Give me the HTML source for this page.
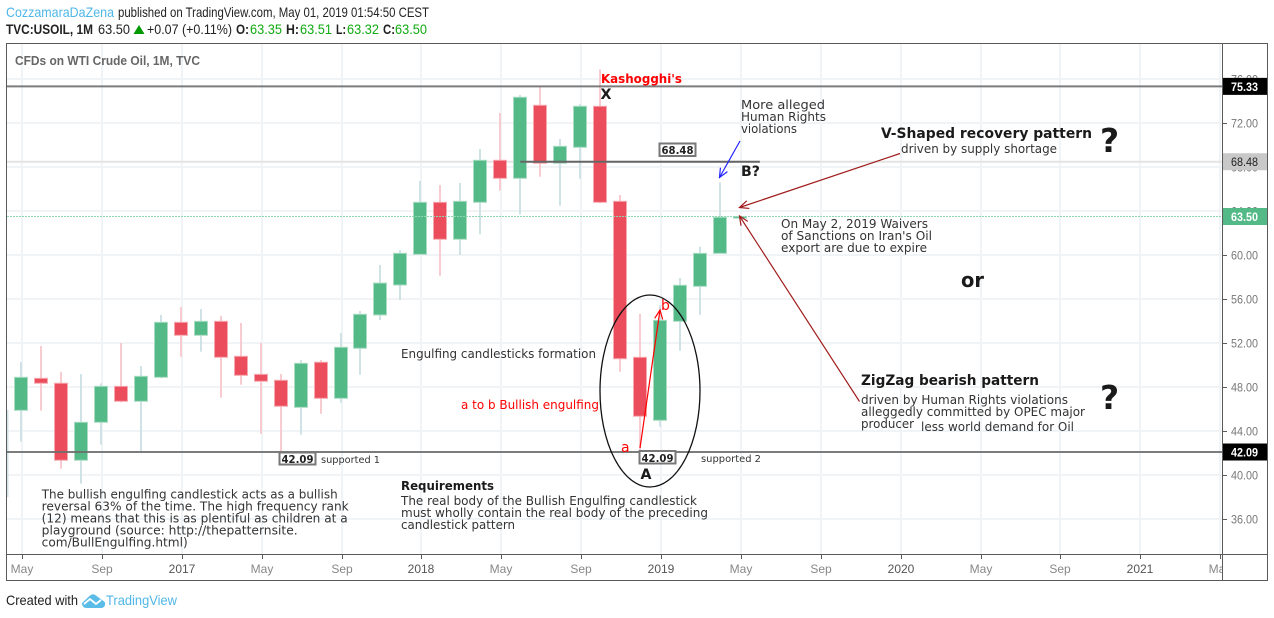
<!DOCTYPE html>
<html lang="en">
<head>
<meta charset="utf-8">
<title>CFDs on WTI Crude Oil, 1M, TVC</title>
<style>
html,body{margin:0;padding:0;background:#fff;width:1274px;height:618px;overflow:hidden}
svg{display:block}
.hd{font-family:"Liberation Sans",sans-serif;font-size:14px;fill:#222}
.note{font-family:"DejaVu Sans",sans-serif;font-size:12px;fill:#333}
.strong{font-family:"DejaVu Sans",sans-serif;font-weight:bold;fill:#1a1a1a}
.tag{font-family:"DejaVu Sans",sans-serif;font-weight:bold;font-size:11px;fill:#222}
.small{font-family:"DejaVu Sans",sans-serif;font-size:10px;fill:#333}
.axis{font-family:"Liberation Sans",sans-serif;font-size:12px;fill:#777}
</style>
</head>
<body>
<svg id="chart" xmlns="http://www.w3.org/2000/svg" width="1274" height="618" viewBox="0 0 1274 618">
<defs>
<clipPath id="plot-clip"><rect x="7" y="44" width="1215" height="510"/></clipPath>
<clipPath id="time-clip"><rect x="7" y="555" width="1215" height="26"/></clipPath>
<marker id="head-dark" markerWidth="12" markerHeight="10" refX="10" refY="5" orient="auto" markerUnits="userSpaceOnUse" overflow="visible"><path d="M1 1L10 5L1 9" fill="none" stroke="#a01c1c" stroke-width="1.200"/></marker>
<marker id="head-blue" markerWidth="12" markerHeight="10" refX="10" refY="5" orient="auto" markerUnits="userSpaceOnUse" overflow="visible"><path d="M1 1L10 5L1 9" fill="none" stroke="#2222ff" stroke-width="1.200"/></marker>
<marker id="head-red" markerWidth="12" markerHeight="10" refX="10" refY="5" orient="auto" markerUnits="userSpaceOnUse" overflow="visible"><path d="M1 1L10 5L1 9" fill="none" stroke="#ff0000" stroke-width="1.200"/></marker>
</defs>

<g>
<text class="hd" x="6" y="17" style="fill:#4fb7e8" textLength="108" lengthAdjust="spacingAndGlyphs">CozzamaraDaZena</text>
<text class="hd" x="118" y="17" textLength="311" lengthAdjust="spacingAndGlyphs">published on TradingView.com, May 01, 2019 01:54:50 CEST</text>
<text class="hd" x="6" y="34" font-weight="bold" textLength="87" lengthAdjust="spacingAndGlyphs">TVC:USOIL, 1M</text>
<text class="hd" x="98" y="34" textLength="32" lengthAdjust="spacingAndGlyphs">63.50</text>
<path d="M133.500 34L139 25L144.500 34Z" fill="#009900"/>
<text class="hd" x="147" y="34" textLength="85" lengthAdjust="spacingAndGlyphs">+0.07 (+0.11%)</text>
<text class="hd" x="236" y="34" font-weight="bold" textLength="13" lengthAdjust="spacingAndGlyphs">O:</text>
<text class="hd" x="250" y="34" style="fill:#11aa11" textLength="32" lengthAdjust="spacingAndGlyphs">63.35</text>
<text class="hd" x="286" y="34" font-weight="bold" textLength="13" lengthAdjust="spacingAndGlyphs">H:</text>
<text class="hd" x="300" y="34" style="fill:#11aa11" textLength="32" lengthAdjust="spacingAndGlyphs">63.51</text>
<text class="hd" x="336" y="34" font-weight="bold" textLength="10" lengthAdjust="spacingAndGlyphs">L:</text>
<text class="hd" x="347" y="34" style="fill:#11aa11" textLength="32" lengthAdjust="spacingAndGlyphs">63.32</text>
<text class="hd" x="383" y="34" font-weight="bold" textLength="12" lengthAdjust="spacingAndGlyphs">C:</text>
<text class="hd" x="395" y="34" style="fill:#11aa11" textLength="32" lengthAdjust="spacingAndGlyphs">63.50</text>
</g>

<g id="grid" clip-path="url(#plot-clip)"></g>
<g id="under-levels" clip-path="url(#plot-clip)"></g>
<g id="candles" clip-path="url(#plot-clip)"></g>
<g id="levels" clip-path="url(#plot-clip)"></g>

<rect x="6.500" y="43.500" width="1261" height="537" fill="none" stroke="#5a5a5a"/>
<line x1="1222.500" y1="44" x2="1222.500" y2="581" stroke="#5a5a5a"/>
<line x1="7" y1="554.500" x2="1267" y2="554.500" stroke="#5a5a5a"/>
<g id="price-axis"></g>
<g id="time-axis"></g>
<g id="price-tags"></g>

<text x="15" y="65" font-family="'Liberation Sans',sans-serif" font-size="13" font-weight="bold" fill="#666" textLength="185" lengthAdjust="spacingAndGlyphs">CFDs on WTI Crude Oil, 1M, TVC</text>

<g>
<ellipse cx="650" cy="391" rx="50" ry="96" fill="none" stroke="#111" stroke-width="1.300"/>
<line x1="640" y1="448" x2="660" y2="310" stroke="#ff0000" stroke-width="1.200" marker-end="url(#head-red)"/>
<line x1="740" y1="141" x2="719.500" y2="177.500" stroke="#2222ff" stroke-width="1.200" marker-end="url(#head-blue)"/>
<line x1="900" y1="153.500" x2="739.500" y2="207.500" stroke="#a01c1c" stroke-width="1.200" marker-end="url(#head-dark)"/>
<line x1="859.500" y1="401.500" x2="739.500" y2="216" stroke="#a01c1c" stroke-width="1.200" marker-end="url(#head-dark)"/>

<text class="strong" x="601" y="83" font-size="12.500" style="fill:#ff0000" textLength="81" lengthAdjust="spacingAndGlyphs">Kashogghi's</text>
<text class="strong" x="600.500" y="99" font-size="14" textLength="11" lengthAdjust="spacingAndGlyphs">X</text>
<text class="strong" x="741" y="176" font-size="14" textLength="19" lengthAdjust="spacingAndGlyphs">B?</text>
<text class="strong" x="640.500" y="479" font-size="14" textLength="11" lengthAdjust="spacingAndGlyphs">A</text>

<g>
<text class="note" x="741" y="109" textLength="84" lengthAdjust="spacingAndGlyphs">More alleged</text>
<text class="note" x="741" y="121" textLength="85" lengthAdjust="spacingAndGlyphs">Human Rights</text>
<text class="note" x="741" y="133" textLength="56" lengthAdjust="spacingAndGlyphs">violations</text>
</g>
<text class="strong" x="881" y="138" font-size="14" textLength="211" lengthAdjust="spacingAndGlyphs">V-Shaped recovery pattern</text>
<text class="note" x="901" y="153" textLength="156" lengthAdjust="spacingAndGlyphs">driven by supply shortage</text>
<text class="strong" x="1100" y="152" font-size="33">?</text>

<g>
<text class="note" x="781" y="228" textLength="147" lengthAdjust="spacingAndGlyphs">On May 2, 2019 Waivers</text>
<text class="note" x="781" y="240" textLength="151" lengthAdjust="spacingAndGlyphs">of Sanctions on Iran's Oil</text>
<text class="note" x="781" y="252" textLength="146" lengthAdjust="spacingAndGlyphs">export are due to expire</text>
</g>
<text class="strong" x="961" y="287" font-size="20" textLength="23" lengthAdjust="spacingAndGlyphs">or</text>

<text class="strong" x="861" y="385" font-size="14" textLength="178" lengthAdjust="spacingAndGlyphs">ZigZag bearish pattern</text>
<g>
<text class="note" x="861" y="404" textLength="207" lengthAdjust="spacingAndGlyphs">driven by Human Rights violations</text>
<text class="note" x="861" y="416" textLength="224" lengthAdjust="spacingAndGlyphs">alleggedly committed by OPEC major</text>
<text class="note" x="861" y="428" textLength="53" lengthAdjust="spacingAndGlyphs">producer</text>
<text class="note" x="921" y="431" textLength="153" lengthAdjust="spacingAndGlyphs">less world demand for Oil</text>
</g>
<text class="strong" x="1100" y="409" font-size="33">?</text>

<text class="note" x="401" y="358" textLength="195" lengthAdjust="spacingAndGlyphs">Engulfing candlesticks formation</text>
<text class="note" x="461" y="409" style="fill:#ff0000" textLength="138" lengthAdjust="spacingAndGlyphs">a to b Bullish engulfing</text>
<text class="note" x="621" y="452" style="fill:#ff0000;font-size:14px">a</text>
<text class="note" x="661" y="310" style="fill:#ff0000;font-size:14px">b</text>

<g>
<rect x="659.500" y="143.500" width="36" height="12.500" fill="#fff" stroke="#777" stroke-width="2"/>
<text class="tag" x="661.500" y="154" textLength="32" lengthAdjust="spacingAndGlyphs">68.48</text>
</g>
<g>
<rect x="279.500" y="452.500" width="36" height="12" fill="#fff" stroke="#777" stroke-width="2"/>
<text class="tag" x="281.500" y="463" textLength="32" lengthAdjust="spacingAndGlyphs">42.09</text>
</g>
<text class="small" x="321" y="463" textLength="59" lengthAdjust="spacingAndGlyphs">supported 1</text>
<g>
<rect x="639.500" y="451" width="36" height="12.500" fill="#fff" stroke="#777" stroke-width="2"/>
<text class="tag" x="641.500" y="462" textLength="32" lengthAdjust="spacingAndGlyphs">42.09</text>
</g>
<text class="small" x="701" y="462" textLength="60" lengthAdjust="spacingAndGlyphs">supported 2</text>

<g>
<text class="note" x="41.700" y="498.500" textLength="296" lengthAdjust="spacingAndGlyphs">The bullish engulfing candlestick acts as a bullish</text>
<text class="note" x="41.700" y="510.500" textLength="307" lengthAdjust="spacingAndGlyphs">reversal 63% of the time. The high frequency rank</text>
<text class="note" x="41.700" y="522.500" textLength="306" lengthAdjust="spacingAndGlyphs">(12) means that this is as plentiful as children at a</text>
<text class="note" x="41.700" y="534.500" textLength="256" lengthAdjust="spacingAndGlyphs">playground (source: http://thepatternsite.</text>
<text class="note" x="41.700" y="546.500" textLength="146" lengthAdjust="spacingAndGlyphs">com/BullEngulfing.html)</text>
</g>
<g>
<text class="strong" x="401" y="490" font-size="12.500" textLength="93" lengthAdjust="spacingAndGlyphs">Requirements</text>
<text class="note" x="401" y="505" textLength="296" lengthAdjust="spacingAndGlyphs">The real body of the Bullish Engulfing candlestick</text>
<text class="note" x="401" y="517" textLength="307" lengthAdjust="spacingAndGlyphs">must wholly contain the real body of the preceding</text>
<text class="note" x="401" y="529" textLength="114" lengthAdjust="spacingAndGlyphs">candlestick pattern</text>
</g>
</g>

<g>
<text class="hd" x="6" y="605" textLength="72" lengthAdjust="spacingAndGlyphs">Created with</text>
<path d="M82 603L90 595.500Q93 593 96 595.500L102 600Q106 602 105 605Q104 608 101 608L87 608Q82 608 82 603Z" fill="#5bbce8"/>
<path d="M84 604L90 599L96 604L101 600" fill="none" stroke="#fff" stroke-width="1.800"/>
<text class="hd" x="106" y="605" style="fill:#4fb7e8" textLength="71" lengthAdjust="spacingAndGlyphs">TradingView</text>
</g>

<script>
// May 2016 .. May 2019 monthly candles
const opens  = [45.88,48.79,48.34,41.34,44.79,48.06,46.70,48.88,53.88,52.70,53.97,50.79,49.15,48.61,46.15,50.25,46.97,51.52,54.55,57.27,60.06,64.79,61.43,64.79,68.61,66.97,73.61,68.34,69.79,73.52,64.88,50.70,44.97,53.97,57.15,60.15,63.35];
const highs  = [50.27,51.73,49.36,49.18,48.34,52.00,49.91,54.55,55.27,55.09,54.45,53.82,52.00,49.18,50.45,50.45,52.91,54.91,59.09,60.45,66.73,66.36,66.55,69.64,72.91,74.55,75.25,70.55,73.73,76.88,65.45,54.64,55.45,57.91,60.75,66.61,63.51];
const lows   = [43.03,45.85,40.57,39.21,42.75,46.60,42.18,48.80,50.75,51.21,47.03,48.21,43.75,42.18,43.66,45.57,46.57,49.12,54.09,55.91,60.00,58.12,60.00,61.88,65.85,63.70,67.12,64.48,66.94,64.70,49.39,42.27,44.39,51.30,54.57,60.18,63.32];
const closes = [48.88,48.34,41.34,44.79,48.06,46.70,48.97,53.88,52.70,53.97,50.70,49.06,48.52,46.25,50.15,46.97,51.61,54.61,57.45,60.15,64.79,61.43,64.88,68.61,66.97,74.34,68.34,69.88,73.52,64.79,50.57,45.34,54.06,57.25,60.15,63.43,63.50];
const priceTicks = [76,72,68,64,60,56,52,48,44,40,36];
const timeIndexes = [0,4,8,12,16,20,24,28,32,36,40,44,48,52,56,60];
const timeLabels = ["May","Sep","2017","May","Sep","2018","May","Sep","2019","May","Sep","2020","May","Sep","2021","May"];
const levelPrices = [75.33,42.09];
const lightLevelPrice = 68.48;
const lastPrice = 63.50;
const segmentPrice = 68.48;
const segmentStartIndex = 25;
const segmentEndIndex = 37;
const clippedWick = [45.9,38.0];

const NS = "http://www.w3.org/2000/svg";
function yScale(p){ return 123 + (72 - p) * 11; }
function xScale(i){ return 21 + 19.97 * i; }
function make(parent, tag, attrs){
  const el = document.createElementNS(NS, tag);
  for (const k in attrs) el.setAttribute(k, attrs[k]);
  parent.appendChild(el);
  return el;
}

const gridG = document.getElementById("grid");
const priceG = document.getElementById("price-axis");
const timeG = document.getElementById("time-axis");
const candleG = document.getElementById("candles");
const levelG = document.getElementById("levels");
const underG = document.getElementById("under-levels");
const tagG = document.getElementById("price-tags");

priceTicks.forEach(function(p){
  const y = Math.round(yScale(p));
  const g = make(gridG, "line", {x1:7, x2:1222, y1:y, y2:y, stroke:"#f0f4f7", "stroke-width":2});
  
  
  const t = make(priceG, "line", {x1:1223, x2:1227, y1:y+0.5, y2:y+0.5, stroke:"#5a5a5a"});
  
  
  const l = make(priceG, "text", {x:1231, y:y+4.5, "class":"axis", textLength:27, lengthAdjust:"spacingAndGlyphs"});
  l.textContent = p.toFixed(2);
  
  
});

const timeClip = make(timeG, "g", {"clip-path":"url(#time-clip)"});


timeIndexes.forEach(function(idx, n){
  const x = Math.round(xScale(idx) + 1);
  const g = make(gridG, "line", {x1:x, x2:x, y1:44, y2:554, stroke:"#f0f4f7", "stroke-width":2});
  
  
  const t = make(timeG, "line", {x1:x+0.5, x2:x+0.5, y1:555, y2:559, stroke:"#5a5a5a"});
  
  
  const isYear = /^\d/.test(timeLabels[n]);
  const l = make(timeClip, "text", {x:x, y:573, "class":"axis", "text-anchor":"middle", style:isYear ? "fill:#555;font-size:12px" : "fill:#888"});
  l.textContent = timeLabels[n];
  
  
});

const lightLine = make(underG, "line", {x1:7, x2:1222, y1:yScale(lightLevelPrice), y2:yScale(lightLevelPrice), stroke:"#e4e4e4", "stroke-width":2});



const stray = make(candleG, "line", {x1:7.5, x2:7.5, y1:yScale(clippedWick[0]), y2:yScale(clippedWick[1]), stroke:"#cfe3e7", "stroke-width":2});



opens.forEach(function(o, i){
  const c = closes[i];
  const up = c >= o;
  const cx = Math.round(xScale(i));
  const wick = make(candleG, "line", {x1:cx, x2:cx, y1:yScale(highs[i]), y2:yScale(lows[i]), stroke:up ? "#cfe3e7" : "#f8cbd0", "stroke-width":2});
  
  
  const top = yScale(Math.max(o, c));
  const bot = yScale(Math.min(o, c));
  const body = make(candleG, "rect", {x:cx-6.5, y:top, width:13, height:Math.max(bot-top, 1), fill:up ? "#53b987" : "#eb4d5c", stroke:up ? "#a9dcc3" : "#f7a9b0", "stroke-width":1});
  
  
});

levelPrices.forEach(function(p){
  const y = yScale(p);
  const ln = make(levelG, "line", {x1:7, x2:1222, y1:y, y2:y, stroke:"#6e6e6e", "stroke-width":2, "stroke-opacity":0.9});
  
  
});
const seg = make(levelG, "line", {x1:xScale(segmentStartIndex), x2:xScale(segmentEndIndex), y1:yScale(segmentPrice), y2:yScale(segmentPrice), stroke:"#666", "stroke-width":2});


const lastLine = make(levelG, "line", {x1:7, x2:1222, y1:Math.floor(yScale(lastPrice))+0.5, y2:Math.floor(yScale(lastPrice))+0.5, stroke:"#8fd6b2", "stroke-width":1, "stroke-dasharray":"2 1"});



function priceTag(p, bg, fg, bold){
  const y = yScale(p);
  const r = make(tagG, "rect", {x:1223, y:y-8.5, width:44, height:17, fill:bg});
  
  
  const t = make(tagG, "text", {x:1231, y:y+4.5, "class":"axis", style:"fill:"+fg+(bold?";font-weight:bold":""), textLength:27, lengthAdjust:"spacingAndGlyphs"});
  t.textContent = p.toFixed(2);
  
  
}
priceTag(levelPrices[0], "#000000", "#ffffff", true);
priceTag(lightLevelPrice, "#c8c8c8", "#222222", false);
priceTag(lastPrice, "#53b987", "#ffffff", true);
priceTag(levelPrices[1], "#000000", "#ffffff", true);
</script>
</svg>
</body>
</html>
